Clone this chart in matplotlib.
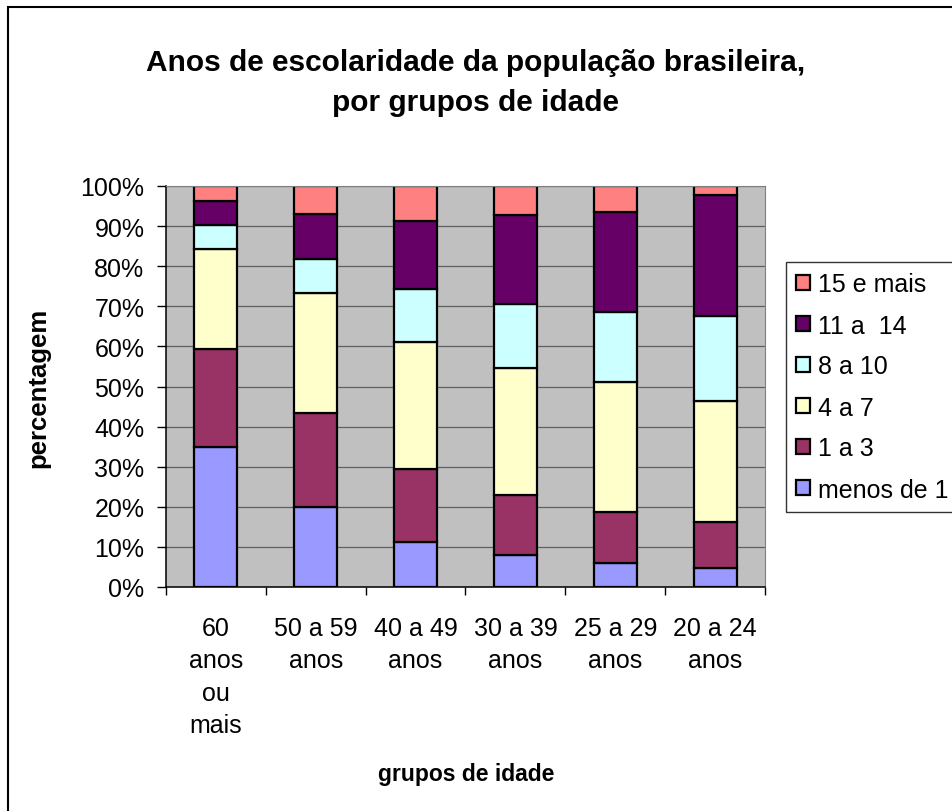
import matplotlib.pyplot as plt
import numpy as np
from matplotlib.patches import Rectangle

# ------------------------------------------
# Data (percentages)
# ------------------------------------------

groups = ["60\nanos\nou\nmais", "50 a 59\nanos", "40 a 49\nanos",
          "30 a 39\nanos", "25 a 29\nanos", "20 a 24\nanos"]

series_names = ["menos de 1", "1 a 3", "4 a 7", "8 a 10", "11 a  14", "15 e mais"]

menos_de_1 = [34.9, 19.9, 11.3, 7.9, 5.9, 4.8]
um_a_3 = [24.5, 23.4, 18.1, 15.0, 12.9, 11.5]
quatro_a_7 = [24.8, 29.9, 31.8, 31.8, 32.4, 30.0]
oito_a_10 = [6.0, 8.5, 13.0, 15.9, 17.4, 21.4]
onze_a_14 = [6.0, 11.2, 17.0, 22.1, 25.0, 30.0]
quinze_mais = [3.8, 7.1, 8.8, 7.3, 6.4, 2.3]

colors = ["#9999FF", "#993366", "#FFFFCC", "#CCFFFF", "#660066", "#FF8080"]

plt.rcParams["font.family"] = ["Liberation Sans", "DejaVu Sans"]

# ------------------------------------------
# Figure
# ------------------------------------------

W, H = 953, 812
fig = plt.figure(figsize=(W / 100, H / 100), dpi=100)
ax = fig.add_axes([166 / W, 1 - 588 / H, (765 - 166) / W, (588 - 187) / H])

ax.set_facecolor("#C0C0C0")
ax.set_axisbelow(True)
ax.yaxis.grid(True, color="#5f5f5f", linewidth=0.9)

x = np.arange(len(groups))
data = [menos_de_1, um_a_3, quatro_a_7, oito_a_10, onze_a_14, quinze_mais]

bottom = np.zeros(len(groups))
handles = []
for name, vals, col in zip(series_names, data, colors):
    b = ax.bar(x, vals, 0.43, bottom=bottom, color=col, edgecolor="black",
               linewidth=1.6, label=name)
    handles.append(b)
    bottom += np.array(vals)

ax.set_xlim(-0.5, len(groups) - 0.5)
ax.set_ylim(0, 100)
ax.set_yticks(np.arange(0, 101, 10))
ax.set_yticklabels([f"{v}%" for v in range(0, 101, 10)])

ax.set_xticks(x)
ax.set_xticklabels(groups, linespacing=1.43)
ax.set_xticks(np.arange(-0.5, len(groups), 1), minor=True)
ax.tick_params(axis="x", which="major", length=0, pad=21, labelsize=18)
ax.tick_params(axis="x", which="minor", length=6, width=1, direction="out")
ax.tick_params(axis="y", length=6.5, width=1, pad=9, labelsize=18)

for s in ["top", "right"]:
    ax.spines[s].set_color("#808080")
for s in ["left", "bottom"]:
    ax.spines[s].set_color("black")
    ax.spines[s].set_linewidth(1.1)

# titles / labels
fig.text(476 / W, 1 - 83 / H, "Anos de escolaridade da população brasileira,\npor grupos de idade",
         ha="center", va="center", fontsize=21.5, fontweight="bold", linespacing=1.55)
fig.text(38 / W, 1 - 387.5 / H, "percentagem", rotation=90, ha="center", va="center",
         fontsize=18.5, fontweight="bold")
fig.text(466 / W, 1 - 775 / H, "grupos de idade", ha="center", va="center",
         fontsize=16.5, fontweight="bold")

# legend (reverse order, top entry = last series)
leg = fig.legend(handles[::-1], series_names[::-1], loc="upper left",
                 bbox_to_anchor=(786 / W, 1 - 263 / H), borderaxespad=0,
                 fontsize=18, frameon=True, fancybox=False,
                 handlelength=0.56, handleheight=0.55, handletextpad=0.3,
                 labelspacing=0.68, borderpad=0.42)
leg.get_frame().set_edgecolor("black")
leg.get_frame().set_linewidth(1)

# chart border (left/top visible, rest cropped)
fig.add_artist(Rectangle((8 / W, -0.2), 2, 1 - 8 / H + 0.2, transform=fig.transFigure,
                         fill=False, edgecolor="black", linewidth=1.5))

plt.savefig("out.png", dpi=100)
